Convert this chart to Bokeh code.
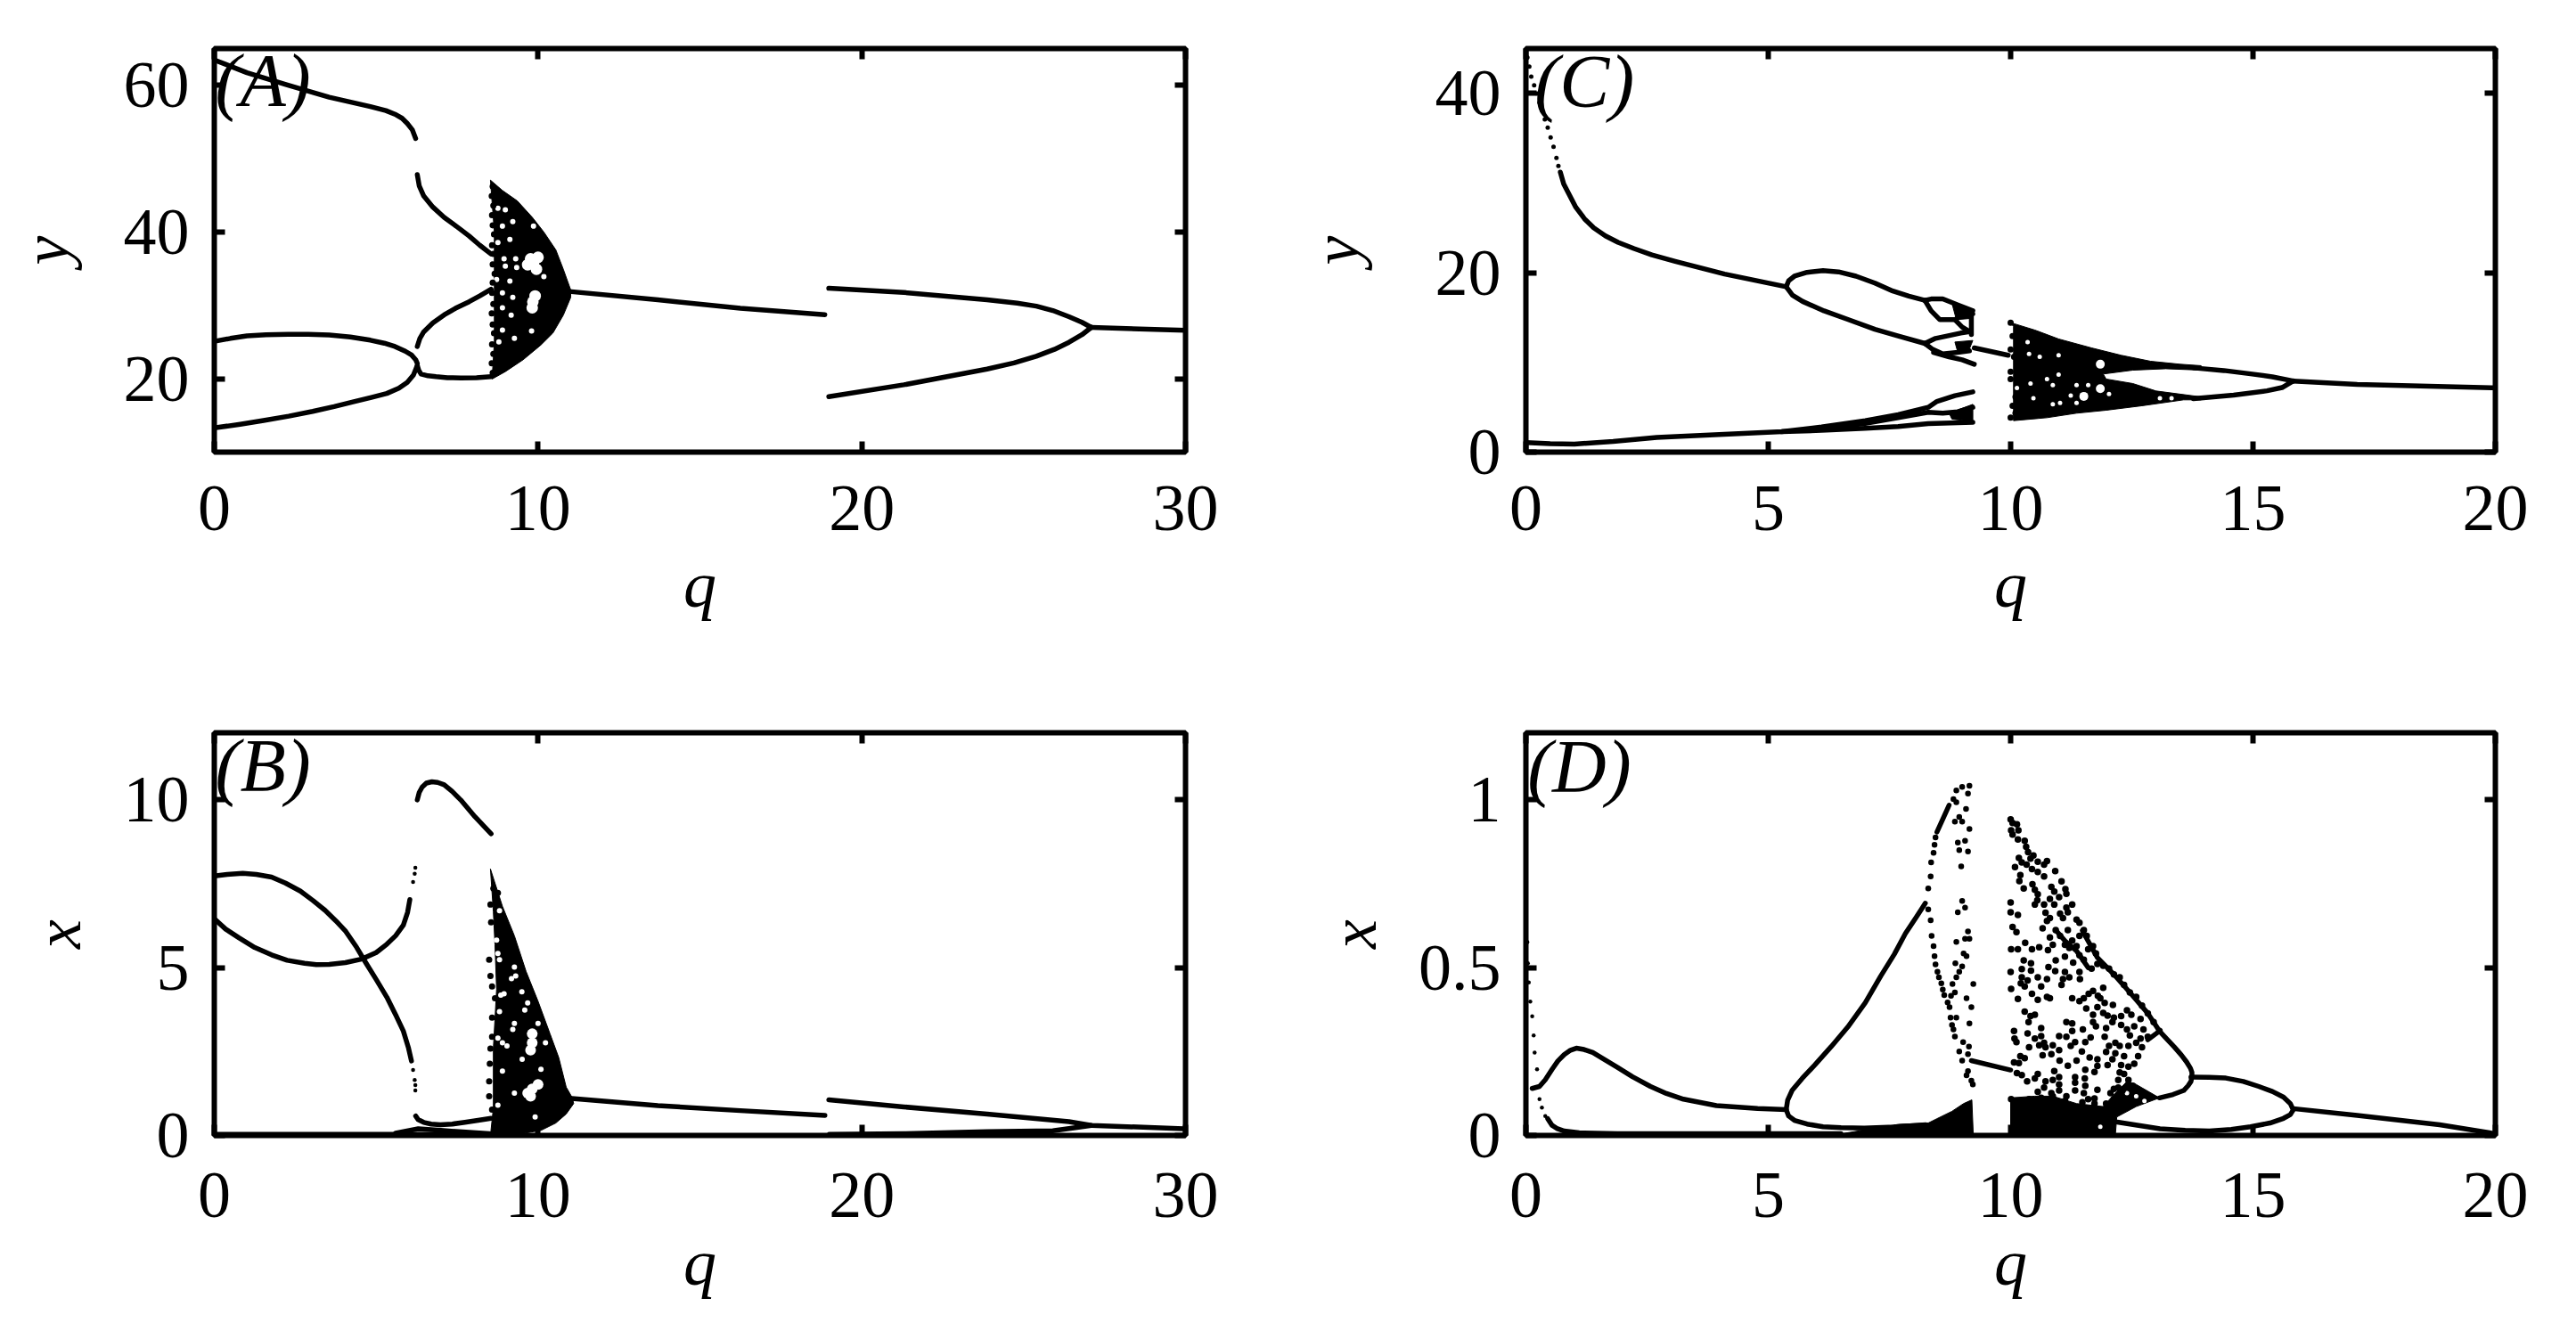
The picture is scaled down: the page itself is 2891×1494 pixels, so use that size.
#!/usr/bin/env python3
from bokeh.plotting import figure
from bokeh.models import FixedTicker, Label, LinearAxis, Range1d
from bokeh.layouts import column, row
from bokeh.embed import file_html
from bokeh.resources import INLINE

SERIF = "Liberation Serif"

# axes
a_x_ticks = [0, 10, 20, 30]
a_y_ticks = [20, 40, 60]
b_x_ticks = [0, 10, 20, 30]
b_y_ticks = [0, 5, 10]
c_x_ticks = [0, 5, 10, 15, 20]
c_y_ticks = [0, 20, 40]
d_x_ticks = [0, 5, 10, 15, 20]
d_y_ticks = [0, 0.5, 1]
d_y_tick_labels = ["0", "0.5", "1"]

# panel A, y against q
a_top_q = [0, 1.01, 2.28, 3.55, 4.82, 5.3, 5.58, 5.8, 5.96, 6.12, 6.22]
a_top_y = [63.46, 61.7, 60.0, 58.36, 57.1, 56.55, 56.05, 55.5, 54.8, 53.9, 52.75]
a_fall_q = [6.27, 6.33, 6.47, 6.75, 7.1, 7.5, 7.87, 8.2, 8.55]
a_fall_y = [47.83, 46.3, 44.9, 43.4, 42.0, 40.7, 39.45, 38.2, 37.0]
a_loop_hi_q = [0, 0.5, 1.01, 1.6, 2.28, 2.9, 3.55, 4.2, 4.82, 5.25, 5.58, 5.9, 6.09, 6.22, 6.27]
a_loop_hi_y = [25.1, 25.5, 25.85, 26.0, 26.07, 26.05, 25.96, 25.7, 25.26, 24.85, 24.4, 23.75, 23.25, 22.6, 22.1]
a_loop_lo_q = [0, 0.8, 1.52, 2.3, 3.04, 3.7, 4.31, 4.85, 5.33, 5.7, 5.96, 6.15, 6.27]
a_loop_lo_y = [13.3, 13.8, 14.3, 14.9, 15.55, 16.2, 16.88, 17.45, 18.0, 18.7, 19.5, 20.5, 21.8]
a_flat_q = [6.27, 6.32, 6.39, 6.6, 6.85, 7.2, 7.61, 8.1, 8.55]
a_flat_y = [21.8, 21.1, 20.63, 20.4, 20.28, 20.15, 20.1, 20.15, 20.28]
a_rise_q = [6.27, 6.35, 6.47, 6.75, 7.1, 7.45, 7.87, 8.2, 8.55]
a_rise_y = [24.4, 25.5, 26.4, 27.6, 28.7, 29.6, 30.5, 31.3, 32.2]
a_mid_q = [10.96, 13.7, 16.25, 18.86]
a_mid_y = [31.9, 30.76, 29.6, 28.74]
a_fork_hi_q = [18.98, 21.3, 23.87, 24.8, 25.39, 25.9, 26.4, 26.8, 27.09]
a_fork_hi_y = [32.34, 31.76, 30.76, 30.3, 29.9, 29.3, 28.45, 27.7, 27.0]
a_fork_lo_q = [18.98, 21.3, 23.87, 24.7, 25.39, 25.95, 26.4, 26.8, 27.09]
a_fork_lo_y = [17.56, 19.18, 21.32, 22.15, 23.06, 24.0, 24.97, 26.0, 27.0]
a_tail_q = [27.09, 30]
a_tail_y = [27.0, 26.6]
a_cloud_q = [8.53, 8.9, 9.36, 9.82, 10.18, 10.55, 10.78, 11.01, 11.01, 10.78, 10.46, 10.09, 9.54, 8.99, 8.58, 8.65, 8.65]
a_cloud_y = [47.07, 45.66, 44.24, 42.01, 39.99, 37.56, 34.93, 32.1, 31.09, 28.66, 26.23, 24.61, 22.59, 20.97, 19.96, 25, 40]
a_gap_q = [9.86, 9.77, 10.0, 9.95, 9.68, 9.84, 9.82, 9.91, 8.95, 8.99, 9.31, 9.34, 9.13, 8.76, 8.9,
           9.22, 9.86, 8.76, 8.99, 8.9, 9.22, 8.72, 9.13, 8.9, 9.17, 9.8, 8.79, 9.27, 8.9, 10.18]
a_gap_y = [35.74, 36.35, 36.55, 34.93, 35.54, 30.48, 29.67, 31.29, 36.35, 35.34, 36.35, 35.15, 38.98, 38.57, 40.8,
           41.41, 40.8, 43.23, 43.03, 31.7, 31.09, 33.52, 33.31, 29.67, 28.66, 26.52, 25.02, 25.5, 26.64, 33.92]
a_edge_q = [8.6, 8.57, 8.62, 8.58, 8.6, 8.64, 8.58, 8.62, 8.6, 8.66, 8.6, 8.58, 8.62, 8.57, 8.6, 8.64, 8.58, 8.62, 8.57, 8.6]
a_edge_y = [46.2, 44.9, 43.6, 42.3, 40.9, 39.7, 38.2, 37.0, 35.6, 34.3, 33.1, 31.7, 30.2, 28.9, 27.4, 26.2, 24.7, 23.4, 22.1, 20.8]

# panel B, x against q
b_hi_q = [0, 0.4, 0.88, 1.3, 1.77, 2.2, 2.66, 3.05, 3.42, 3.75, 4.06, 4.4, 4.69, 5.0, 5.33, 5.6, 5.84, 6.0, 6.09]
b_hi_y = [7.73, 7.78, 7.81, 7.78, 7.7, 7.52, 7.28, 7.0, 6.71, 6.4, 6.08, 5.6, 5.13, 4.65, 4.12, 3.6, 3.11, 2.6, 2.22]
b_lo_q = [0, 0.35, 0.76, 1.25, 1.77, 2.25, 2.79, 3.15, 3.55, 4.05, 4.57, 5.0, 5.33, 5.6, 5.84, 5.97, 6.04]
b_lo_y = [6.46, 6.15, 5.89, 5.6, 5.38, 5.22, 5.13, 5.09, 5.1, 5.15, 5.26, 5.45, 5.7, 5.95, 6.27, 6.65, 7.03]
b_dots_q = [6.14, 6.19, 6.21, 6.14, 6.19, 6.21, 6.21]
b_dots_y = [1.95, 1.65, 1.34, 7.55, 7.8, 7.98, 1.5]
b_arch_q = [6.27, 6.33, 6.42, 6.55, 6.72, 6.9, 7.1, 7.35, 7.61, 8.05, 8.55]
b_arch_y = [10.0, 10.22, 10.38, 10.5, 10.54, 10.52, 10.45, 10.25, 10.0, 9.5, 8.99]
b_small_q = [6.22, 6.3, 6.47, 6.7, 6.98, 7.35, 7.74, 8.15, 8.55]
b_small_y = [0.58, 0.47, 0.39, 0.34, 0.32, 0.34, 0.39, 0.45, 0.51]
b_wedge_q = [5.6, 6.3, 7, 8.5]
b_wedge_y = [0.07, 0.2, 0.15, 0.05]
b_base_q = [0, 8.6]
b_base_y = [0.03, 0.03]
b_mid_q = [10.96, 13.7, 16.25, 18.86]
b_mid_y = [1.11, 0.89, 0.74, 0.6]
b_fork_hi_q = [18.98, 21.3, 23.87, 26.4, 27.09, 29.95]
b_fork_hi_y = [1.06, 0.85, 0.64, 0.41, 0.3, 0.2]
b_fork_lo_q = [19, 21.3, 23.87, 25.9, 26.6, 27.09]
b_fork_lo_y = [0.03, 0.05, 0.11, 0.14, 0.23, 0.3]
b_cloud_q = [8.53, 8.9, 9.27, 9.63, 10.0, 10.37, 10.64, 10.87, 11.06, 11.1, 10.87, 10.55, 10.09, 9.54, 8.53, 8.62, 8.62, 8.72, 8.67, 8.62]
b_cloud_y = [7.94, 6.83, 5.95, 4.89, 4.0, 3.03, 2.32, 1.44, 1.12, 0.95, 0.64, 0.37, 0.15, 0.06, 0.0, 0.82, 2.6, 4.35, 5.68, 6.66]
b_gap_q = [9.82, 9.77, 10.0, 9.68, 9.82, 9.82, 9.77, 8.9, 8.76, 9.04, 9.27, 9.22, 9.51, 8.9, 9.27, 8.76, 8.81, 8.76,
           9.18, 9.31, 8.85, 8.95, 9.5, 8.81, 8.72, 8.81, 9.68, 9.59, 9.27, 10.0, 9.91, 10.23, 10.09]
b_gap_y = [1.39, 1.17, 1.52, 1.26, 2.76, 3.03, 2.54, 2.76, 2.9, 2.67, 3.34, 3.16, 2.27, 1.92, 1.26, 0.9, 5.24, 5.42,
           4.67, 4.75, 4.18, 4.22, 4.28, 6.7, 5.82, 3.69, 3.95, 3.74, 5.02, 3.34, 0.55, 2.76, 1.97]
b_edge_q = [8.62, 8.76, 8.53, 8.55, 8.49, 8.53, 8.58, 8.67, 8.58, 8.58, 8.53, 8.51, 8.49, 8.49, 8.58]
b_edge_y = [7.36, 7.23, 6.88, 6.35, 5.24, 4.75, 4.44, 4.09, 3.51, 2.94, 2.59, 2.14, 1.61, 1.17, 0.77]

# panel C, y against q
c_start_q = [0.03, 0.07, 0.11, 0.17, 0.23, 0.28, 0.33, 0.39, 0.45, 0.51, 0.57, 0.63, 0.67]
c_start_y = [44.0, 43.0, 41.87, 40.9, 39.98, 39.0, 38.09, 37.1, 36.19, 35.1, 34.06, 32.8, 31.9]
c_main_q = [0.71, 0.78, 0.88, 1.03, 1.21, 1.4, 1.64, 1.9, 2.23, 2.6, 3.08, 4.1, 5.37]
c_main_y = [31.22, 29.9, 28.85, 27.3, 26.01, 25.0, 24.12, 23.4, 22.7, 22.0, 21.28, 19.86, 18.44]
c_arc_hi_q = [5.37, 5.42, 5.54, 5.8, 6.13, 6.45, 6.81, 7.2, 7.57, 7.9, 8.23]
c_arc_hi_y = [18.44, 19.1, 19.62, 20.05, 20.24, 20.1, 19.62, 18.85, 17.96, 17.4, 16.92]
c_arc_lo_q = [5.37, 5.5, 5.71, 6.15, 6.64, 7.2, 7.68, 8.23]
c_arc_lo_y = [18.44, 17.5, 16.8, 15.75, 14.8, 13.7, 12.95, 12.12]
c_sub1_q = [8.23, 8.36, 8.6, 8.91, 9.22]
c_sub1_y = [16.92, 17.08, 17.08, 16.42, 15.76]
c_sub2_q = [8.23, 8.36, 8.54, 8.85, 9.0, 9.15]
c_sub2_y = [16.92, 15.76, 14.77, 14.77, 13.94, 13.44]
c_sub3_q = [8.85, 9.0, 9.22]
c_sub3_y = [14.77, 15.26, 15.43]
c_col_q = [9.19, 9.19]
c_col_y = [15.76, 13.11]
c_chunk1_q = [8.79, 9.22, 9.22, 8.88]
c_chunk1_y = [16.59, 15.76, 14.93, 14.77]
c_sub4_q = [8.23, 8.45, 8.69, 8.97, 9.15]
c_sub4_y = [12.12, 12.68, 12.95, 13.28, 13.44]
c_sub5_q = [8.23, 8.39, 8.6, 8.91, 9.15]
c_sub5_y = [12.12, 11.46, 10.96, 11.12, 11.29]
c_sub6_q = [8.41, 8.73, 9.0, 9.25]
c_sub6_y = [11.12, 10.63, 10.3, 9.8]
c_chunk2_q = [8.85, 9.22, 9.12, 8.91]
c_chunk2_y = [12.28, 12.45, 11.12, 11.12]
c_link_q = [9.25, 9.95]
c_link_y = [11.62, 10.8]
c_low_top_q = [0, 0.5, 1, 1.8, 2.7, 5.28, 6.1, 7.0, 7.68, 8.3, 8.48, 8.85, 9.22]
c_low_top_y = [1.06, 0.95, 0.9, 1.2, 1.65, 2.28, 2.8, 3.5, 4.17, 5.0, 5.66, 6.3, 6.72]
c_low_mid_q = [6.1, 7.0, 7.68, 8.3, 8.6, 8.91, 9.22]
c_low_mid_y = [2.6, 3.2, 3.84, 4.45, 4.34, 4.5, 5.0]
c_low_bot_q = [5.28, 6.2, 7.0, 7.68, 8.3, 9.22]
c_low_bot_y = [2.28, 2.45, 2.65, 2.85, 3.18, 3.34]
c_chunk3_q = [8.73, 9.22, 9.22, 8.79]
c_chunk3_y = [4.34, 5.33, 3.41, 3.68]
c_cloud_q = [10.0, 10.5, 10.99, 11.67, 12.28, 12.89, 13.5, 13.93, 13.93, 13.2, 12.52, 11.91, 11.97, 12.52, 13.0, 13.93,
             13.93, 13.57, 12.71, 11.97, 11.36, 10.75, 10.06, 10.06]
c_cloud_y = [14.44, 13.61, 12.62, 11.62, 10.8, 10.13, 9.8, 9.64, 9.14, 9.3, 9.14, 8.71, 8.15, 7.65, 6.82, 6.16,
             5.83, 5.83, 5.17, 4.67, 4.34, 3.84, 3.51, 14.0]
c_gap_q = [11.85, 11.51, 11.85, 10.38, 10.75, 10.99, 10.41, 11.36, 10.87, 10.47, 10.87, 11.02, 11.36, 12.03, 11.24,
           10.35, 10.99, 11.6, 10.6, 10.13, 10.0, 13.08, 13.32]
c_gap_y = [7.08, 6.22, 9.8, 10.96, 8.15, 8.64, 7.65, 7.48, 7.48, 6.0, 5.33, 5.5, 5.5, 6.49, 6.32,
           12.28, 10.8, 7.48, 10.63, 7.15, 10.3, 6.0, 6.0]
c_edge_q = [10.0, 10.04, 10.0, 10.07, 10.0, 10.0, 10.1, 10.04, 10.0, 10.1]
c_edge_y = [14.44, 12.95, 11.46, 10.63, 8.97, 8.15, 6.16, 5.17, 3.84, 4.34]
c_fork_hi_q = [13.77, 14.4, 14.95, 15.4, 15.83]
c_fork_hi_y = [9.4, 9.1, 8.73, 8.4, 7.93]
c_fork_lo_q = [13.77, 14.6, 15.29, 15.6, 15.83]
c_fork_lo_y = [5.95, 6.36, 6.84, 7.2, 7.93]
c_tail_q = [15.83, 17.15, 20]
c_tail_y = [7.93, 7.55, 7.17]

# panel D, x against q
d_start_q = [0.03, 0.04, 0.06, 0.09, 0.13, 0.16, 0.18, 0.23, 0.28, 0.33, 0.4]
d_start_y = [0.576, 0.513, 0.456, 0.399, 0.355, 0.298, 0.247, 0.197, 0.108, 0.083, 0.058]
d_hump_q = [0.13, 0.28, 0.4, 0.54, 0.66, 0.79, 0.92, 1.04, 1.2, 1.38, 1.6, 1.89, 2.2, 2.57, 2.9, 3.25, 3.93, 4.78, 5.37]
d_hump_y = [0.14, 0.146, 0.166, 0.197, 0.222, 0.241, 0.254, 0.26, 0.256, 0.247, 0.228, 0.203, 0.175, 0.146, 0.125, 0.108, 0.089, 0.08, 0.077]
d_floor_q = [0.45, 0.54, 0.65, 0.79, 1.1, 1.89, 6.5]
d_floor_y = [0.05, 0.03, 0.02, 0.013, 0.008, 0.005, 0.005]
d_rise_q = [5.37, 5.4, 5.49, 5.7, 5.96, 6.3, 6.64, 7.0, 7.32, 7.6, 7.83, 8.05, 8.24]
d_rise_y = [0.077, 0.105, 0.134, 0.17, 0.21, 0.265, 0.323, 0.395, 0.475, 0.54, 0.602, 0.65, 0.692]
d_rise2_q = [8.48, 8.73]
d_rise2_y = [0.904, 0.984]
d_arc_q = [5.37, 5.42, 5.54, 5.8, 6.13, 6.5, 6.98, 7.6, 8.25]
d_arc_y = [0.077, 0.058, 0.045, 0.034, 0.026, 0.023, 0.022, 0.025, 0.032]
d_link_q = [9.19, 10.0]
d_link_y = [0.223, 0.195]
d_left_q = [8.3, 8.35, 8.36, 8.41, 8.43, 8.45, 8.82, 8.88, 9.0, 9.15, 9.12, 8.88, 9.08, 8.85, 9.0, 8.94, 9.15, 8.91, 9.06,
            8.94, 9.12, 8.98, 9.0, 9.06, 8.91, 8.3, 8.35, 8.37, 8.41, 8.43, 8.45, 8.49, 8.52, 8.57, 8.6, 8.63, 8.7, 8.74,
            8.76, 8.88, 8.79, 8.82, 8.85, 9.02, 9.14, 8.94, 9.12, 9.0, 9.12, 8.88, 9.06, 9.15, 9.03, 9.09, 8.86, 9.0,
            8.94, 8.88, 8.8, 9.23, 8.85, 8.77, 9.09, 9.19, 9.15, 9.12, 9.09, 9.19, 9.22]
d_left_y = [0.736, 0.772, 0.814, 0.842, 0.866, 0.888, 1.002, 1.028, 1.039, 1.042, 1.019, 0.993, 0.973, 0.935, 0.935, 0.949,
            0.913, 0.873, 0.878, 0.85, 0.846, 0.802, 0.699, 0.679, 0.665, 0.674, 0.641, 0.595, 0.564, 0.534, 0.51, 0.488,
            0.471, 0.453, 0.435, 0.418, 0.396, 0.382, 0.351, 0.351, 0.329, 0.316, 0.295, 0.278, 0.265, 0.25, 0.242, 0.223,
            0.608, 0.577, 0.586, 0.586, 0.542, 0.534, 0.513, 0.504, 0.488, 0.471, 0.451, 0.451, 0.426, 0.416, 0.409, 0.382,
            0.334, 0.192, 0.179, 0.163, 0.152]
d_cloud_q = [10.0, 10.04, 10.13, 10.01, 10.04, 10.16, 10.15, 10.29, 10.32, 10.36, 10.47, 10.41, 10.17, 10.09, 10.23, 10.33,
             10.56, 10.75, 10.69, 10.44, 10.56, 10.69, 10.92, 10.2, 10.18, 10.27, 10.45, 10.5, 10.56, 10.84, 10.9, 11.05,
             11.13, 11.15, 11.0, 10.81, 10.9, 10.69, 10.5, 10.55, 11.27, 11.15, 10.0, 10.0, 10.15, 10.04, 10.12, 10.72,
             10.81, 10.75, 11.02, 11.18, 11.08, 11.36, 11.42, 10.66, 10.93, 11.02, 11.18, 11.51, 11.57, 11.42, 10.81, 11.12,
             11.21, 11.27, 11.36, 11.6, 11.7, 11.76, 10.01, 10.15, 10.3, 10.44, 10.59, 10.77, 10.87, 11.12, 10.93, 11.29,
             11.42, 11.51, 11.67, 11.79, 11.91, 12.03, 12.13, 12.25, 12.34, 12.46, 12.59, 12.71, 12.83, 12.95, 13.07,
             10.0, 10.23, 10.42, 10.42, 10.27, 10.78, 10.92, 11.12, 11.42, 11.21, 11.08, 11.43, 10.75, 10.56, 10.23, 10.21,
             10.29, 10.35, 10.63, 11.05, 10.01, 10.15, 10.44, 10.56, 10.75, 10.81, 11.27, 11.42, 11.51, 11.61, 11.7, 11.91,
             11.8, 11.85, 11.79, 11.94, 12.11, 11.56, 11.7, 11.91, 12.0, 12.13, 12.28, 12.4, 12.49, 12.68, 12.1, 12.28,
             12.55, 12.74, 12.4, 11.97, 11.7, 11.76, 11.49, 11.27, 11.15, 11.27, 11.0, 11.15, 11.65, 11.54, 11.33, 11.24,
             11.94, 12.03, 12.16, 12.25, 12.43, 12.59, 12.71, 12.83, 12.68, 12.46, 11.97, 12.16, 12.34, 12.63, 12.55, 12.43,
             12.28, 12.1, 12.0, 11.79, 11.79, 11.63, 11.47, 11.36, 11.18, 11.01, 10.84, 10.66, 11.0, 10.87, 10.72, 10.59,
             10.69, 10.5, 10.63, 10.63, 10.38, 10.35, 10.37, 10.41, 10.5, 10.29, 10.07, 10.08, 10.12, 10.2, 10.29, 10.07,
             10.17, 10.13, 10.23, 10.34, 10.5, 10.56, 10.9, 10.72, 10.87, 11.0, 11.0, 11.0, 10.84, 10.69, 10.56, 11.33,
             11.33, 11.33, 11.15, 11.53, 11.54, 11.54, 11.73, 11.79, 11.51, 11.6, 11.73, 12.25, 12.22, 12.22, 12.34, 12.43,
             12.52, 12.13, 12.06, 12.31, 10.01, 10.13, 10.38, 10.63, 10.87, 11.12, 11.48, 11.73, 11.97, 12.13]
d_cloud_y = [0.942, 0.931, 0.927, 0.909, 0.897, 0.909, 0.882, 0.878, 0.86, 0.844, 0.834, 0.825, 0.827, 0.8, 0.814, 0.807,
             0.816, 0.818, 0.807, 0.794, 0.785, 0.772, 0.788, 0.776, 0.758, 0.736, 0.749, 0.732, 0.719, 0.741, 0.727, 0.757,
             0.734, 0.72, 0.71, 0.705, 0.688, 0.688, 0.688, 0.701, 0.688, 0.679, 0.694, 0.665, 0.657, 0.621, 0.606, 0.664,
             0.648, 0.639, 0.661, 0.665, 0.648, 0.643, 0.634, 0.617, 0.612, 0.595, 0.612, 0.612, 0.595, 0.595, 0.59, 0.568,
             0.559, 0.581, 0.564, 0.555, 0.564, 0.542, 0.555, 0.555, 0.574, 0.555, 0.561, 0.552, 0.568, 0.533, 0.522, 0.515,
             0.537, 0.524, 0.497, 0.511, 0.506, 0.497, 0.48, 0.471, 0.449, 0.426, 0.413, 0.387, 0.364, 0.338, 0.311,
             0.487, 0.496, 0.513, 0.491, 0.522, 0.502, 0.49, 0.487, 0.487, 0.471, 0.466, 0.466, 0.466, 0.471, 0.471, 0.453,
             0.444, 0.462, 0.444, 0.449, 0.437, 0.407, 0.422, 0.404, 0.413, 0.409, 0.409, 0.4, 0.409, 0.422, 0.431, 0.44,
             0.416, 0.409, 0.382, 0.395, 0.389, 0.378, 0.36, 0.365, 0.357, 0.351, 0.356, 0.373, 0.36, 0.347, 0.338, 0.329,
             0.325, 0.316, 0.316, 0.32, 0.338, 0.325, 0.316, 0.334, 0.338, 0.311, 0.296, 0.294, 0.292, 0.278, 0.278, 0.267,
             0.294, 0.267, 0.276, 0.267, 0.267, 0.276, 0.263, 0.294, 0.289, 0.298, 0.249, 0.245, 0.236, 0.236, 0.214, 0.205,
             0.21, 0.227, 0.21, 0.227, 0.207, 0.232, 0.25, 0.223, 0.208, 0.223, 0.242, 0.239, 0.254, 0.269, 0.263, 0.269,
             0.276, 0.289, 0.296, 0.32, 0.263, 0.304, 0.338, 0.356, 0.36, 0.369, 0.311, 0.289, 0.278, 0.236, 0.23, 0.218,
             0.216, 0.186, 0.18, 0.161, 0.17, 0.183, 0.192, 0.161, 0.165, 0.174, 0.152, 0.134, 0.126, 0.143, 0.13, 0.174,
             0.157, 0.134, 0.117, 0.17, 0.148, 0.196, 0.189, 0.136, 0.126, 0.108, 0.11, 0.188, 0.165, 0.143, 0.183, 0.165,
             0.148, 0.139, 0.126, 0.134, 0.108, 0.099, 0.108, 0.112, 0.117, 0.103, 0.099, 0.095, 0.095, 0.108]
d_ridge_q = [11.48, 11.79, 12.13, 12.46, 12.83, 13.07]
d_ridge_y = [0.61, 0.53, 0.48, 0.426, 0.364, 0.311]
d_chain_q = [10.93, 11.12, 11.36, 11.6]
d_chain_y = [0.612, 0.58, 0.55, 0.5]
d_mass_q = [10.0, 10.5, 10.87, 11.36, 11.91, 12.1, 12.4, 12.59, 13.07, 12.59, 12.19, 12.16, 10.0]
d_mass_y = [0.112, 0.117, 0.117, 0.095, 0.086, 0.117, 0.161, 0.152, 0.112, 0.086, 0.055, 0.0, 0.0]
d_wedge_q = [6.3, 7.68, 8.3, 8.48, 8.79, 9.03, 9.2, 9.23]
d_wedge_y = [0.0, 0.033, 0.037, 0.05, 0.072, 0.095, 0.106, 0.0]
d_gap_q = [11.85, 12.4, 12.59, 12.76, 12.3]
d_gap_y = [0.026, 0.126, 0.117, 0.103, 0.135]
d_right_q = [13.07, 13.25, 13.38, 13.52, 13.63, 13.71, 13.74, 13.74, 13.72, 13.66, 13.57, 13.35, 13.07]
d_right_y = [0.311, 0.283, 0.263, 0.24, 0.219, 0.2, 0.188, 0.174, 0.161, 0.148, 0.134, 0.122, 0.112]
d_spur_q = [12.83, 13.07]
d_spur_y = [0.285, 0.311]
d_bulge_q = [13.72, 14.1, 14.44, 14.8, 15.12, 15.4, 15.63, 15.77, 15.83, 15.77, 15.63, 15.35, 14.95, 14.55, 14.1, 13.6, 13.08, 12.2]
d_bulge_y = [0.174, 0.173, 0.171, 0.161, 0.146, 0.131, 0.114, 0.095, 0.076, 0.062, 0.051, 0.037, 0.026, 0.018, 0.013, 0.015, 0.02, 0.04]
d_tail_q = [15.83, 17.15, 18.85, 20]
d_tail_y = [0.08, 0.06, 0.032, 0.005]


def blank(ticks):
    return {t: "" for t in ticks}


def panel(x_end, y_start, y_end, x_ticks, y_ticks, y_label, left, right, top, bottom, frame_w, frame_h,
          label_gap, x_tick_gap, q_gap):
    p = figure(output_backend="svg", toolbar_location=None,
               x_range=Range1d(0, x_end), y_range=Range1d(y_start, y_end),
               frame_width=frame_w, frame_height=frame_h,
               min_border_left=left, min_border_right=right, min_border_top=top, min_border_bottom=bottom,
               x_axis_label="q", y_axis_label=y_label)
    p.grid.visible = False
    p.outline_line_color = "black"
    p.outline_line_width = 6
    p.add_layout(LinearAxis(major_label_overrides=blank(x_ticks)), "above")
    p.add_layout(LinearAxis(major_label_overrides=blank(y_ticks)), "right")
    for ax in p.above + p.right + p.below + p.left:
        ax.axis_line_color = None
        ax.major_tick_in = 12
        ax.major_tick_out = 0
        ax.major_tick_line_width = 6
        ax.major_tick_line_color = "black"
        ax.minor_tick_line_color = None
        ax.major_label_text_font = SERIF
        ax.major_label_text_font_size = "74px"
        ax.major_label_text_color = "black"
        ax.axis_label_text_font = SERIF
        ax.axis_label_text_font_size = "74px"
        ax.axis_label_text_font_style = "italic"
        ax.axis_label_text_color = "black"
    for ax in p.above + p.below:
        ax.ticker = FixedTicker(ticks=x_ticks)
    for ax in p.left + p.right:
        ax.ticker = FixedTicker(ticks=y_ticks)
    p.below[0].major_label_standoff = x_tick_gap
    p.below[0].axis_label_standoff = q_gap
    p.left[0].major_label_standoff = 28
    p.left[0].axis_label_standoff = label_gap
    return p


def tag(p, text, x, y):
    p.add_layout(Label(x=x, y=y, text=text, text_font=SERIF, text_font_size="84px",
                       text_font_style="italic", text_color="black", text_baseline="alphabetic"))


def curves(p, pairs):
    for qs, ys in pairs:
        p.line(qs, ys, line_color="black", line_width=5.5, line_cap="round", line_join="round")


def blobs(p, pairs):
    for qs, ys in pairs:
        p.patch(qs, ys, fill_color="black", line_color="black", line_width=1)


def dots(p, qs, ys, size=6.5, color="black"):
    p.scatter(qs, ys, size=size, marker="circle", fill_color=color, line_color=None)


pa = panel(30, 10, 65, a_x_ticks, a_y_ticks, "y", 240, 116, 54, 253, 1090, 453, 44, 38, 17)
blobs(pa, [(a_cloud_q, a_cloud_y)])
dots(pa, a_gap_q[:8], a_gap_y[:8], 13, "white")
dots(pa, a_gap_q[8:], a_gap_y[8:], 6, "white")
dots(pa, a_edge_q, a_edge_y, 7)
curves(pa, [(a_top_q, a_top_y), (a_fall_q, a_fall_y), (a_loop_hi_q, a_loop_hi_y), (a_loop_lo_q, a_loop_lo_y),
            (a_flat_q, a_flat_y), (a_rise_q, a_rise_y), (a_mid_q, a_mid_y), (a_fork_hi_q, a_fork_hi_y),
            (a_fork_lo_q, a_fork_lo_y), (a_tail_q, a_tail_y)])
tag(pa, "(A)", 0.03, 60.6)

pc = panel(20, 0, 45, c_x_ticks, c_y_ticks, "y", 266, 83, 54, 253, 1088, 453, 68, 38, 17)
blobs(pc, [(c_cloud_q, c_cloud_y), (c_chunk1_q, c_chunk1_y), (c_chunk2_q, c_chunk2_y), (c_chunk3_q, c_chunk3_y)])
dots(pc, c_gap_q[:3], c_gap_y[:3], 10, "white")
dots(pc, c_gap_q[3:], c_gap_y[3:], 5, "white")
dots(pc, c_edge_q, c_edge_y, 7)
dots(pc, c_start_q, c_start_y, 5)
curves(pc, [(c_main_q, c_main_y), (c_arc_hi_q, c_arc_hi_y), (c_arc_lo_q, c_arc_lo_y), (c_sub1_q, c_sub1_y),
            (c_sub2_q, c_sub2_y), (c_sub3_q, c_sub3_y), (c_col_q, c_col_y), (c_sub4_q, c_sub4_y),
            (c_sub5_q, c_sub5_y), (c_sub6_q, c_sub6_y), (c_link_q, c_link_y), (c_low_top_q, c_low_top_y),
            (c_low_mid_q, c_low_mid_y), (c_low_bot_q, c_low_bot_y), (c_fork_hi_q, c_fork_hi_y),
            (c_fork_lo_q, c_fork_lo_y), (c_tail_q, c_tail_y)])
tag(pc, "(C)", 0.18, 41.3)

pb = panel(30, 0, 12, b_x_ticks, b_y_ticks, "x", 240, 116, 62, 212, 1090, 452, 30, 42, 7)
blobs(pb, [(b_cloud_q, b_cloud_y)])
dots(pb, b_gap_q[:7], b_gap_y[:7], 12, "white")
dots(pb, b_gap_q[7:], b_gap_y[7:], 6, "white")
dots(pb, b_edge_q, b_edge_y, 7)
dots(pb, b_dots_q, b_dots_y, 4.5)
curves(pb, [(b_hi_q, b_hi_y), (b_lo_q, b_lo_y), (b_arch_q, b_arch_y), (b_small_q, b_small_y), (b_wedge_q, b_wedge_y),
            (b_base_q, b_base_y), (b_mid_q, b_mid_y), (b_fork_hi_q, b_fork_hi_y), (b_fork_lo_q, b_fork_lo_y)])
tag(pb, "(B)", 0.03, 11.02)

pd_ = panel(20, 0, 1.2, d_x_ticks, d_y_ticks, "x", 266, 83, 62, 212, 1088, 452, 29, 42, 7)
pd_.left[0].major_label_overrides = dict(zip(d_y_ticks, d_y_tick_labels))
blobs(pd_, [(d_mass_q, d_mass_y), (d_wedge_q, d_wedge_y)])
dots(pd_, d_gap_q, d_gap_y, 5, "white")
dots(pd_, d_start_q, d_start_y, 4.5)
dots(pd_, d_left_q, d_left_y, 6.5)
dots(pd_, d_cloud_q, d_cloud_y, 7.5)
curves(pd_, [(d_hump_q, d_hump_y), (d_floor_q, d_floor_y), (d_rise_q, d_rise_y), (d_rise2_q, d_rise2_y), (d_arc_q, d_arc_y),
             (d_link_q, d_link_y), (d_right_q, d_right_y), (d_spur_q, d_spur_y), (d_bulge_q, d_bulge_y), (d_tail_q, d_tail_y),
             (d_ridge_q, d_ridge_y), (d_chain_q, d_chain_y)])
tag(pd_, "(D)", 0.03, 1.1)

layout = column(row(pa, pc), row(pb, pd_))
open("out.html", "w").write(file_html(layout, INLINE))
